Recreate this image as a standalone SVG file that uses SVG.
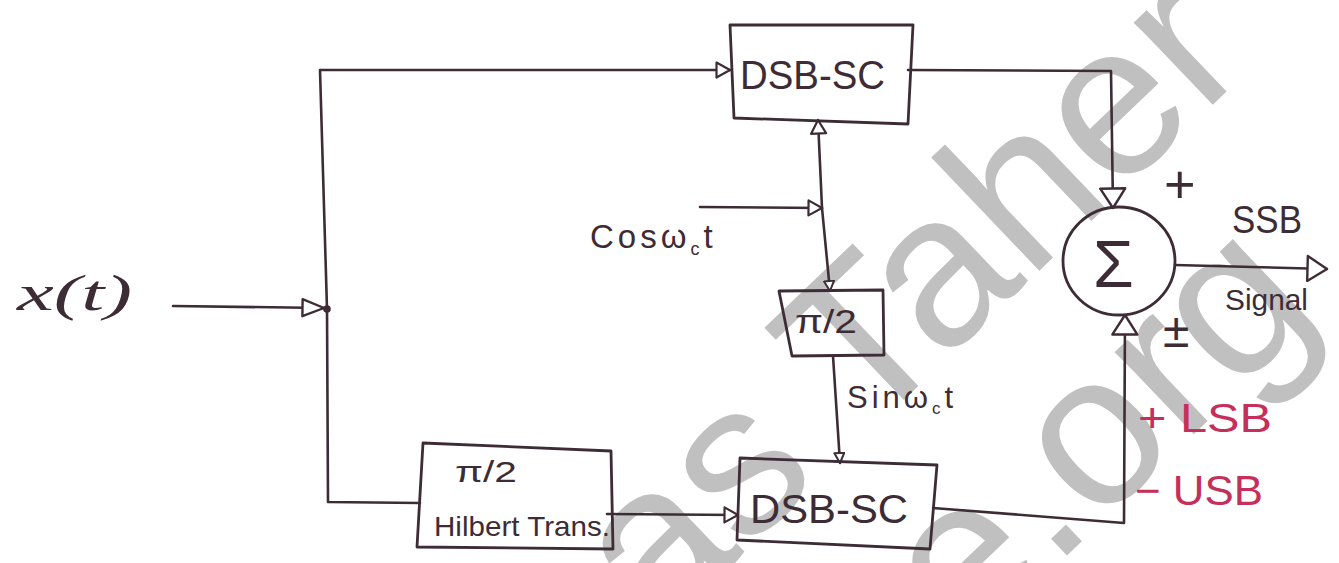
<svg xmlns="http://www.w3.org/2000/svg" width="1339" height="563" viewBox="0 0 1339 563">
<style>
.ln{fill:none;stroke:#3d2c35;stroke-width:2.6;stroke-linecap:round;stroke-linejoin:round}
.bx{fill:none;stroke:#3d2c35;stroke-width:2.8;stroke-linejoin:round}
.t{font-family:"Liberation Sans",Arial,sans-serif;fill:#3d2c35}
.red{fill:#c4305a}
.wm{font-family:"Liberation Sans",Arial,sans-serif;font-size:216px;fill:#c0c0c0}
</style>
<defs>
<marker id="ab" viewBox="0 0 22 28" refX="21" refY="14" markerWidth="22" markerHeight="28" markerUnits="userSpaceOnUse" orient="auto">
<path d="M1.5,1.5 L21,14 L1.5,26.5 Z" fill="#fff" stroke="#3d2c35" stroke-width="2.4" stroke-linejoin="round"/>
</marker>
<marker id="ai" viewBox="0 0 24 20" refX="23" refY="10" markerWidth="24" markerHeight="20" markerUnits="userSpaceOnUse" orient="auto">
<path d="M1.5,1.5 L23,10 L1.5,18.5 Z" fill="#fff" stroke="#3d2c35" stroke-width="2.4" stroke-linejoin="round"/>
</marker>
<marker id="am" viewBox="0 0 16 18" refX="15" refY="9" markerWidth="16" markerHeight="18" markerUnits="userSpaceOnUse" orient="auto">
<path d="M1.5,1.5 L15,9 L1.5,16.5 Z" fill="#fff" stroke="#3d2c35" stroke-width="2.2" stroke-linejoin="round"/>
</marker>
<marker id="as" viewBox="0 0 12 12" refX="11" refY="6" markerWidth="12" markerHeight="12" markerUnits="userSpaceOnUse" orient="auto">
<path d="M1,1 L11,6 L1,11 Z" fill="#fff" stroke="#3d2c35" stroke-width="2" stroke-linejoin="round"/>
</marker>
</defs>
<rect width="1339" height="563" fill="#fff"/>
<g id="watermark">
<text class="wm" transform="translate(658,635) rotate(-43.7)">as Taher</text>
<text class="wm" transform="translate(966,652) rotate(-43.7)">e.org</text>
</g>
<g id="connectors">
<path class="ln" d="M173,306 L324,308" marker-end="url(#ai)"/>
<circle cx="327" cy="309" r="3.8" fill="#3d2c35"/>
<path class="ln" d="M327,309 L320,70 L730,70" marker-end="url(#am)"/>
<path class="ln" d="M327,309 L328,502 L420,503"/>
<path class="ln" d="M607,514 L738,515" marker-end="url(#am)"/>
<path class="ln" d="M908,70 L1111,71 L1113,208" marker-end="url(#ab)"/>
<path class="ln" d="M700,207 L822,208" marker-end="url(#am)"/>
<path class="ln" d="M822,208 L818,120" marker-end="url(#am)"/>
<path class="ln" d="M822,208 L830,291" marker-end="url(#as)"/>
<path class="ln" d="M833,356 L840,463" marker-end="url(#as)"/>
<path class="ln" d="M933,508 L1124,523 L1125,315" marker-end="url(#ab)"/>
<path class="ln" d="M1175,265 L1327,269" marker-end="url(#ab)"/>
</g>
<g id="input">
<text x="17" y="310" font-family="Liberation Serif,serif" font-style="italic" font-size="50" fill="#3d2c35" textLength="115" lengthAdjust="spacingAndGlyphs">x(t)</text>
</g>
<g id="dsb_top">
<path class="bx" d="M730,25 L913,25 L908,124 L734,118 Z"/>
<text class="t" x="740" y="89" font-size="40" textLength="145" lengthAdjust="spacingAndGlyphs">DSB-SC</text>
</g>
<g id="carrier">
<text class="t" x="590" y="248" font-size="33" letter-spacing="4">Cosω<tspan font-size="18" dy="7">c</tspan><tspan font-size="33" dy="-7">t</tspan></text>
</g>
<g id="phase_shift">
<path class="bx" d="M779,291 L883,290 L884,355 L792,356 Z"/>
<text class="t" x="795" y="333" font-size="34" textLength="62" lengthAdjust="spacingAndGlyphs">π/2</text>
<text class="t" x="847" y="408" font-size="31" letter-spacing="4">Sinω<tspan font-size="17" dy="6">c</tspan><tspan font-size="31" dy="-6">t</tspan></text>
</g>
<g id="hilbert">
<path class="bx" d="M423,443 L611,451 L613,549 L417,547 Z"/>
<text class="t" x="455" y="482" font-size="30" textLength="62" lengthAdjust="spacingAndGlyphs">π/2</text>
<text class="t" x="434" y="536" font-size="28" textLength="176" lengthAdjust="spacingAndGlyphs">Hilbert Trans.</text>
</g>
<g id="dsb_bottom">
<path class="bx" d="M740,458 L937,465 L930,549 L737,540 Z"/>
<text class="t" x="750" y="523" font-size="40" textLength="158" lengthAdjust="spacingAndGlyphs">DSB-SC</text>
</g>
<g id="summer">
<ellipse class="bx" cx="1119" cy="261" rx="56" ry="54"/>
<text class="t" x="1093" y="287" font-size="66">Σ</text>
<text class="t" x="1164" y="203" font-size="54">+</text>
<text class="t" x="1163" y="347" font-size="48">±</text>
</g>
<g id="output">
<text class="t" x="1232" y="233" font-size="39" textLength="70" lengthAdjust="spacingAndGlyphs">SSB</text>
<text class="t" x="1225" y="310" font-size="29" textLength="83" lengthAdjust="spacingAndGlyphs">Signal</text>
<text class="t red" x="1138" y="432" font-size="40" textLength="134" lengthAdjust="spacingAndGlyphs">+ LSB</text>
<text class="t red" x="1135" y="505" font-size="42" textLength="128" lengthAdjust="spacingAndGlyphs">− USB</text>
</g>
</svg>
